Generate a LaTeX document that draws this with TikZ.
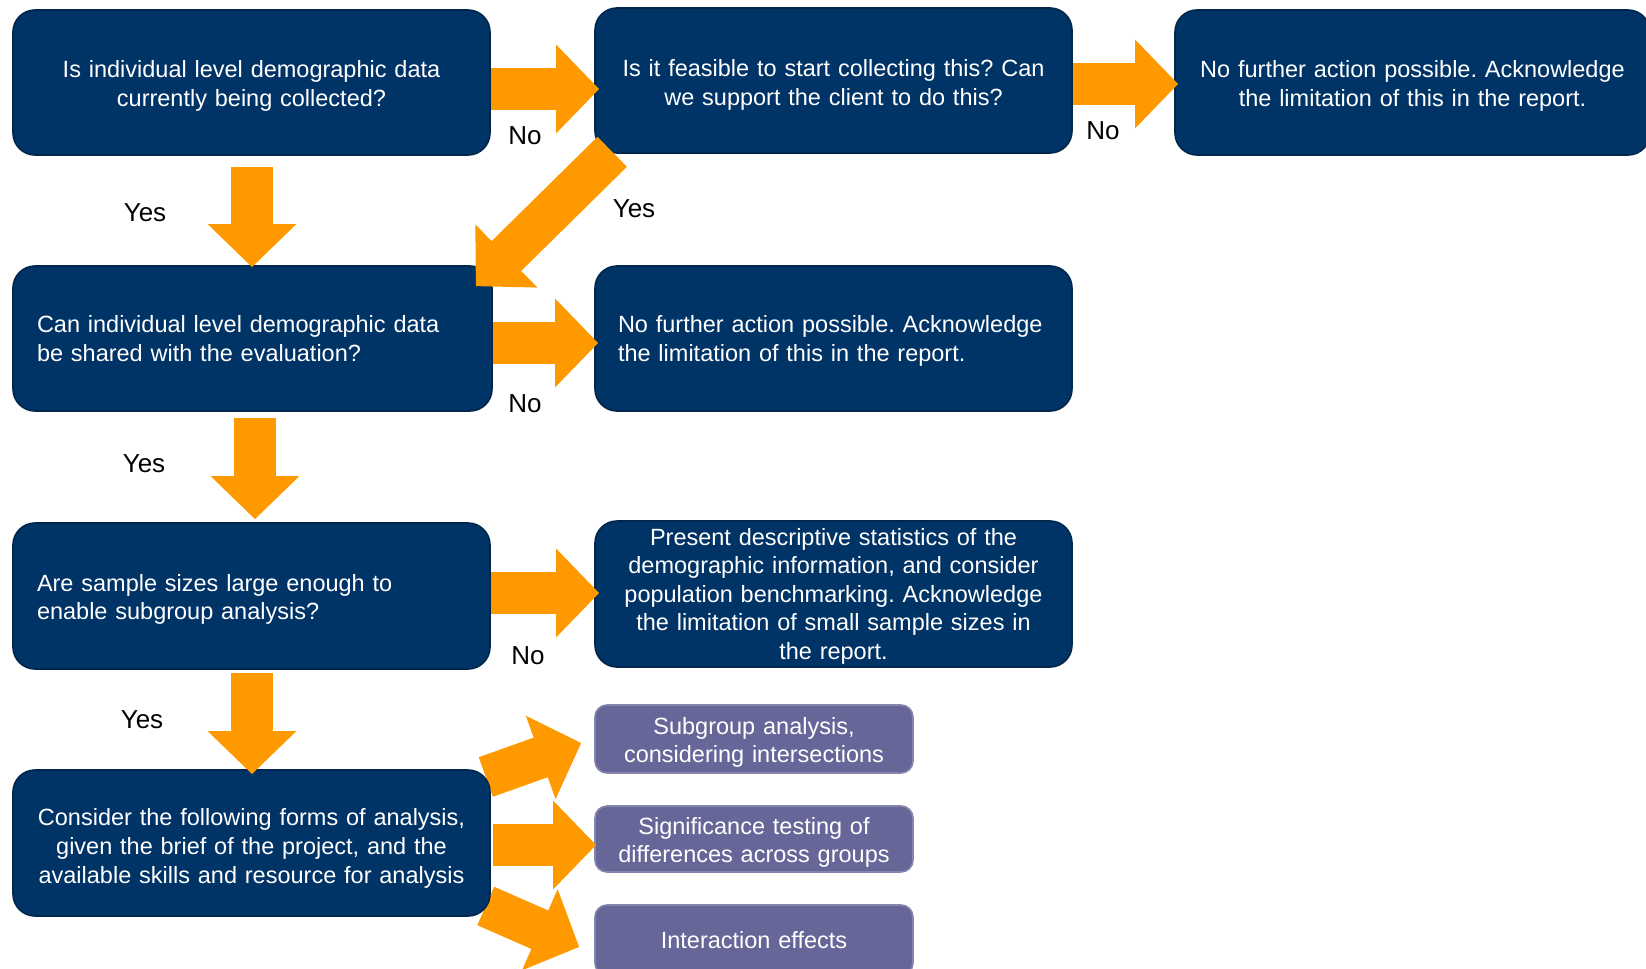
\documentclass[tikz,border=0pt]{standalone}
\usepackage{fontspec}
\setmainfont{Liberation Sans}
\usetikzlibrary{arrows.meta,calc,backgrounds}
\definecolor{navy}{RGB}{0,51,102}
\definecolor{orng}{RGB}{255,153,0}
\definecolor{purp}{RGB}{102,102,153}
\newcommand{\mystrut}[1]{\rule{0pt}{#1}}
\frenchspacing
\hyphenpenalty=10000
\exhyphenpenalty=10000
\begin{document}
\begin{tikzpicture}[x=0.5pt,y=-0.5pt,
  box/.style={fill=navy, draw=navy!75!black, line width=0.8pt, rounded corners=11pt, text=white,
    font=\fontsize{11.75}{14.3}\selectfont, inner ysep=0pt, minimum height=72.5pt},
  cbox/.style={box, align=center, inner xsep=2pt, text width=#1},
  lbox/.style={box, align=left, inner xsep=12pt, text width=#1},
  pbox/.style={fill=purp, draw=purp!80!white, line width=0.8pt, rounded corners=6pt, text=white,
    font=\fontsize{11.75}{14.3}\selectfont, align=center, inner xsep=2pt, inner ysep=0pt, text width=155pt},
  barrow/.style={draw=orng, line width=21pt, -{Triangle[width=43pt,length=21.5pt]}},
  lbl/.style={font=\fontsize{13}{15}\selectfont, text=black, inner sep=0pt}
]
\useasboundingbox (0,0) rectangle (1646,969);

% boxes
\node[cbox=234.5pt] (A) at (251.5,82.5) {\mystrut{11.8pt}Is individual level demographic data\\currently being collected?};
\node[cbox=234.5pt] (B) at (833.5,80.5) {\mystrut{12.8pt}Is it feasible to start collecting this? Can\\we support the client to do this?};
\node[cbox=233.5pt] (C) at (1412.5,82.5) {\mystrut{11.8pt}No further action possible. Acknowledge\\the limitation of this in the report.};
\node[lbox=215.5pt] (D) at (252.5,338.5) {Can individual level demographic data\\be shared with the evaluation?};
\node[lbox=215.5pt, inner xsep=11.5pt] (E) at (833.5,338.5) {\mystrut{10.8pt}No further action possible. Acknowledge\\the limitation of this in the report.};
\node[lbox=214.5pt, minimum height=73pt] (F) at (251.5,596) {\mystrut{11.8pt}Are sample sizes large enough to\\enable subgroup analysis?};
\node[cbox=234.5pt, minimum height=73pt] (G) at (833.5,594) {\mystrut{10.7pt}Present descriptive statistics of the\\demographic information, and consider\\population benchmarking. Acknowledge\\the limitation of small sample sizes in\\the report.};
\node[cbox=234.5pt, minimum height=73pt] (H) at (251.5,843) {\mystrut{14pt}Consider the following forms of analysis,\\given the brief of the project, and the\\available skills and resource for analysis};
\node[pbox, minimum height=34pt] (P1) at (754,739) {\mystrut{11.8pt}Subgroup analysis,\\considering intersections};
\node[pbox, minimum height=33pt] (P2) at (754,839) {\mystrut{11.8pt}Significance testing of\\differences across groups};
\node[pbox, minimum height=35pt] (P3) at (754,940) {Interaction effects};

% arrows
\draw[barrow] ($(A.east)+(0,6.5)$) -- ($(B.west)+(5,8.5)$);
\draw[barrow] ($(B.east)+(0,3.5)$) -- ($(C.west)+(4,1.5)$);
\draw[barrow] ($(A.south)+(0.5,11)$) -- ($(D.north)+(-0.5,2)$);
\draw[barrow] ($(B.south west)+(18,-2)$) -- ($(D.north east)+(-17,21)$);
\draw[barrow] ($(D.east)+(0,4.5)$) -- ($(E.west)+(4,4.5)$);
\draw[barrow] ($(D.south)+(2.5,6)$) -- ($(F.north)+(3.5,-3)$);
\draw[barrow] ($(F.east)+(0,-3)$) -- ($(G.west)+(5,-1)$);
\draw[barrow] ($(F.south)+(0.5,3)$) -- ($(H.north)+(0.5,5)$);
\draw[barrow] ($(H.east)+(2,2)$) -- ($(P2.west)+(2,6)$);
\begin{scope}[on background layer]
\draw[barrow] ($(H.east)+(-5,-66)$) -- ($(P1.west)+(-13,4)$);
\draw[barrow] ($(H.east)+(-5,63)$) -- ($(P3.west)+(-15,7)$);
\end{scope}

% labels
\node[lbl] (l1) at (525,136) {No};
\node[lbl] (l2) at (1103,131) {No};
\node[lbl] (l3) at (145,213) {Yes};
\node[lbl] (l4) at (634,209) {Yes};
\node[lbl] (l5) at (525,404) {No};
\node[lbl] (l6) at (144,464) {Yes};
\node[lbl] (l7) at (528,656) {No};
\node[lbl] (l8) at (142,720) {Yes};
\end{tikzpicture}
\end{document}
